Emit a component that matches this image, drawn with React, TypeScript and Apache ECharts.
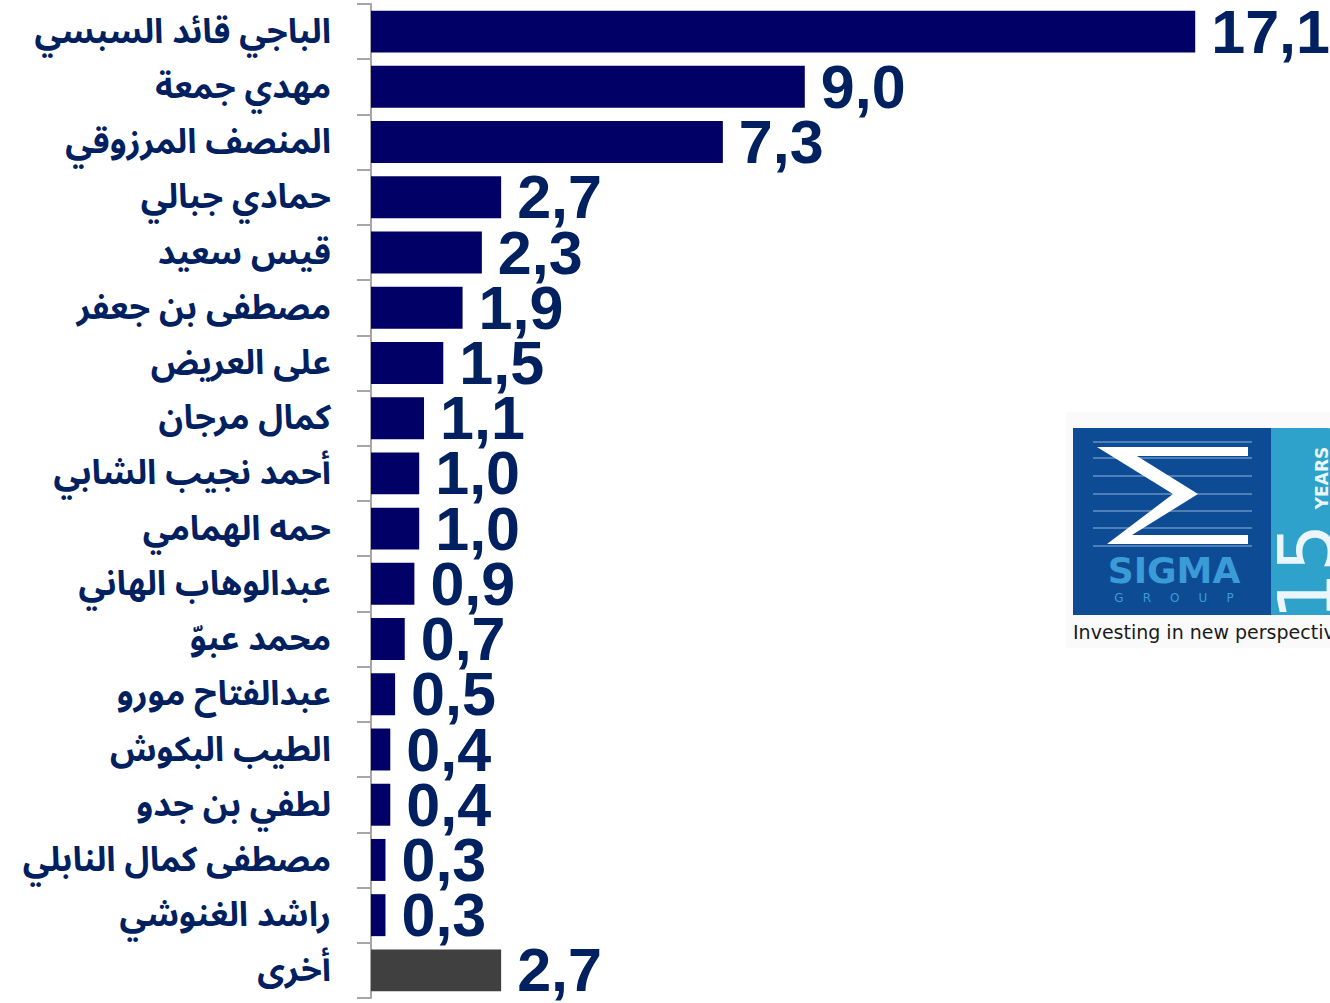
import React, { useEffect, useRef } from "react";
import * as echarts from "echarts";

const names = [
  "الباجي قائد السبسي",
  "مهدي جمعة",
  "المنصف المرزوقي",
  "حمادي جبالي",
  "قيس سعيد",
  "مصطفى بن جعفر",
  "على العريض",
  "كمال مرجان",
  "أحمد نجيب الشابي",
  "حمه الهمامي",
  "عبدالوهاب الهاني",
  "محمد عبوّ",
  "عبدالفتاح مورو",
  "الطيب البكوش",
  "لطفي بن جدو",
  "مصطفى كمال النابلي",
  "راشد الغنوشي",
  "أخرى",
];
const values = [17.1, 9.0, 7.3, 2.7, 2.3, 1.9, 1.5, 1.1, 1.0, 1.0, 0.9, 0.7, 0.5, 0.4, 0.4, 0.3, 0.3, 2.7];
const otherIndex = 17;

const NAVY = "#000066";
const LABEL = "#002060";

export default function App() {
  const ref = useRef<HTMLDivElement>(null);
  useEffect(() => {
    if (!ref.current) return;
    const chart = echarts.init(ref.current, null, { renderer: "svg" });
    const gridLeft = 371;
    const xMax = 18;
    const gridWidth = 48.2 * xMax;
    const sigma = [
      [1097, 447], [1248, 447], [1248, 456], [1137, 456], [1198, 494],
      [1132, 535], [1248, 535], [1248, 544], [1107, 544], [1173, 494],
    ];
    const lineYs = [442, 458, 476, 494, 511, 528, 546];
    const graphics: any[] = [
      { type: "rect", shape: { x: 1066, y: 412, width: 270, height: 236 }, style: { fill: "#fafafa" }, z: 0 },
      { type: "rect", shape: { x: 1073, y: 428, width: 198, height: 187 }, style: { fill: "#0d4c95" }, z: 1 },
      { type: "rect", shape: { x: 1271, y: 428, width: 70, height: 187, r: [0, 14, 0, 0] }, style: { fill: "#2ea2cb" }, z: 1 },
      ...lineYs.map((y) => ({
        type: "line",
        shape: { x1: 1093, y1: y, x2: 1252, y2: y },
        style: { stroke: "#8fb3d9", lineWidth: 1.2 },
        z: 2,
      })),
      { type: "polygon", shape: { points: sigma }, style: { fill: "#ffffff" }, z: 3 },
      {
        type: "text", x: 1174, y: 570, z: 3,
        style: { text: "SIGMA", fill: "#3b9bd6", font: "bold 36px 'DejaVu Sans', sans-serif", align: "center", verticalAlign: "middle" },
      },
      {
        type: "text", x: 1174, y: 598, z: 3,
        style: { text: "G     R     O     U     P", fill: "#3b9bd6", font: "12px 'DejaVu Sans', sans-serif", align: "center", verticalAlign: "middle" },
      },
      {
        type: "text", x: 1306, y: 572, rotation: Math.PI / 2, z: 3,
        style: { text: "15", fill: "#eaf6fb", font: "76px 'DejaVu Sans', sans-serif", align: "center", verticalAlign: "middle" },
      },
      {
        type: "text", x: 1322, y: 478, rotation: Math.PI / 2, z: 3,
        style: { text: "YEARS", fill: "#eaf6fb", font: "bold 17px 'DejaVu Sans', sans-serif", align: "center", verticalAlign: "middle" },
      },
      {
        type: "text", x: 1073, y: 632, z: 3,
        style: { text: "Investing in new perspectives", fill: "#1a1a1a", font: "19px 'DejaVu Sans', sans-serif", align: "left", verticalAlign: "middle" },
      },
    ];
    chart.setOption({
      animation: false,
      grid: { left: gridLeft, top: 4, width: gridWidth, height: 994, containLabel: false, outerBoundsMode: "none" },
      xAxis: {
        type: "value",
        min: 0,
        max: xMax,
        show: false,
      },
      yAxis: {
        type: "category",
        data: names,
        inverse: true,
        axisLine: { show: true, lineStyle: { color: "#a6a6a6", width: 2 } },
        axisTick: { show: true, length: 14, lineStyle: { color: "#a6a6a6", width: 2 } },
        axisLabel: {
          color: LABEL,
          fontFamily: "'Noto Sans Arabic', 'Noto Naskh Arabic', 'DejaVu Sans', sans-serif",
          fontWeight: "bold",
          fontSize: 34,
          lineHeight: 40,
          margin: 40,
        },
      },
      series: [
        {
          type: "bar",
          data: values.map((v, i) => ({
            value: v,
            itemStyle: { color: i === otherIndex ? "#404040" : NAVY },
          })),
          barCategoryGap: "24%",
          label: {
            show: true,
            position: "right",
            distance: 16,
            color: LABEL,
            fontFamily: "'Liberation Sans', Arial, sans-serif",
            fontWeight: "bold",
            fontSize: 61,
            lineHeight: 52,
            formatter: (p: any) => p.value.toFixed(1).replace(".", ","),
          },
        },
      ],
      graphic: graphics,
    });
    return () => chart.dispose();
  }, []);
  return (
    <div
      ref={ref}
      style={{ position: "fixed", left: 0, top: 0, width: 1330, height: 1003, background: "#ffffff" }}
    />
  );
}
